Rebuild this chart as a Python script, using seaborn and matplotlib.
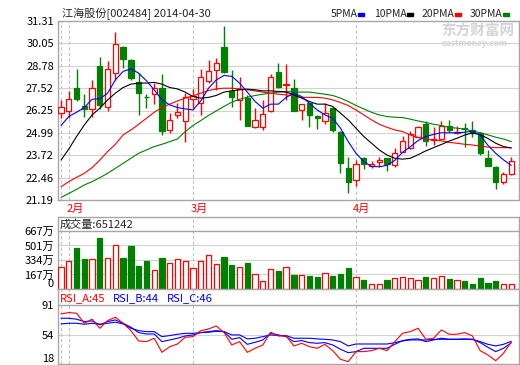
import matplotlib
matplotlib.use('Agg')
import matplotlib.pyplot as plt
import matplotlib.transforms as mtransforms
import numpy as np
import pandas as pd
import seaborn as sns

# daily candles, 2014-01-30 .. 2014-04-30
opens = [26.11, 26.21, 27.55, 26.53, 26.32, 28.74, 26.42, 28.35, 29.85, 29.10,
         27.85, 27.04, 27.16, 27.50, 25.13, 25.97, 25.68, 26.89, 26.70, 27.93,
         28.52, 29.84, 27.36, 26.85, 26.95, 25.29, 25.34, 26.25, 28.42, 27.70,
         27.51, 26.28, 26.66, 25.94, 25.63, 26.38, 25.06, 23.02, 22.32, 23.59,
         23.11, 23.36, 23.55, 23.17, 23.93, 24.15, 24.78, 25.51, 24.60, 24.64,
         25.40, 24.98, 25.25, 25.15, 25.00, 23.59, 23.08, 22.23, 22.64]
closes = [26.45, 26.91, 26.89, 26.34, 27.55, 26.57, 28.59, 29.99, 29.17, 28.10,
          27.25, 27.00, 27.50, 25.09, 25.74, 26.14, 26.99, 27.08, 28.12, 28.46,
          28.93, 28.42, 27.00, 27.47, 25.38, 25.72, 26.04, 28.17, 27.60, 27.74,
          26.23, 26.61, 26.00, 25.81, 26.10, 25.15, 23.30, 22.23, 23.21, 23.22,
          23.25, 23.45, 23.22, 23.83, 24.55, 24.91, 25.34, 24.55, 24.64, 25.40,
          25.15, 25.02, 25.19, 25.00, 23.83, 23.11, 22.23, 22.64, 23.40]
highs = [26.83, 27.36, 28.59, 27.16, 27.98, 29.27, 29.03, 30.70, 29.89, 29.14,
         28.35, 27.17, 27.78, 28.31, 26.11, 26.66, 27.23, 27.46, 28.59, 29.08,
         29.21, 31.04, 28.52, 28.12, 27.12, 26.38, 26.85, 28.31, 28.91, 28.87,
         28.02, 26.63, 26.68, 25.98, 26.70, 26.40, 25.08, 23.64, 23.43, 23.61,
         23.38, 23.64, 23.57, 24.11, 24.81, 25.09, 25.36, 25.63, 25.29, 25.66,
         25.70, 25.36, 25.53, 25.63, 25.01, 24.00, 23.10, 22.75, 23.64]
lows = [25.81, 25.81, 26.79, 25.89, 25.87, 26.34, 26.23, 27.98, 28.65, 27.97,
        25.97, 26.38, 26.61, 24.89, 24.98, 25.81, 24.49, 26.38, 25.97, 27.80,
        27.42, 28.36, 26.42, 25.72, 25.35, 25.25, 25.15, 26.14, 27.55, 26.85,
        26.20, 25.72, 25.34, 25.19, 25.47, 25.06, 22.74, 21.60, 21.98, 22.94,
        22.98, 23.08, 22.83, 23.08, 23.90, 24.06, 24.75, 24.24, 24.30, 24.62,
        25.04, 24.91, 24.21, 24.78, 23.72, 23.09, 21.82, 22.09, 22.62]

ma5 = [25.40, 25.91, 26.15, 26.42, 26.89, 26.91, 27.23, 27.98, 28.46, 28.61,
       28.36, 27.93, 27.42, 26.85, 26.57, 26.42, 26.34, 26.28, 26.79, 27.51,
       27.98, 28.23, 28.18, 27.80, 27.29, 26.76, 26.38, 26.61, 26.61, 26.99,
       27.23, 27.04, 26.66, 26.28, 26.00, 25.81, 25.25, 24.49, 23.83, 23.36,
       23.09, 23.07, 23.15, 23.43, 23.89, 24.20, 24.55, 24.78, 24.90, 24.99,
       24.99, 24.99, 25.02, 25.08, 24.85, 24.28, 23.83, 23.46, 23.15]
ma10 = [23.45, 24.07, 24.78, 25.43, 26.00, 26.38, 26.85, 27.23, 27.55, 27.74,
        27.80, 27.80, 27.84, 27.74, 27.55, 27.47, 27.29, 27.04, 26.95, 26.99,
        27.10, 27.29, 27.36, 27.42, 27.46, 27.42, 27.36, 27.36, 27.33, 27.29,
        27.13, 26.95, 26.76, 26.61, 26.61, 26.48, 26.10, 25.72, 25.25, 24.78,
        24.40, 24.02, 23.73, 23.55, 23.50, 23.55, 23.75, 23.97, 24.15, 24.33,
        24.52, 24.68, 24.86, 24.98, 24.88, 24.67, 24.40, 24.21, 24.13]
ma20 = [21.94, 22.23, 22.47, 22.70, 23.02, 23.45, 23.93, 24.34, 24.87, 25.15,
        25.47, 25.81, 26.15, 26.42, 26.61, 26.79, 26.95, 27.08, 27.23, 27.38,
        27.47, 27.51, 27.51, 27.47, 27.42, 27.36, 27.29, 27.23, 27.17, 27.13,
        27.08, 27.00, 26.99, 26.99, 26.95, 26.85, 26.70, 26.53, 26.28, 26.00,
        25.72, 25.47, 25.30, 25.15, 25.06, 24.87, 24.72, 24.64, 24.58, 24.53,
        24.45, 24.40, 24.34, 24.30, 24.24, 24.18, 24.15, 24.15, 24.15]
ma30 = [21.34, 21.56, 21.79, 22.04, 22.23, 22.45, 22.70, 22.98, 23.26, 23.55,
        23.83, 24.02, 24.21, 24.34, 24.49, 24.64, 25.06, 25.40, 25.68, 25.97,
        26.23, 26.48, 26.72, 26.89, 27.00, 27.10, 27.17, 27.23, 27.29, 27.33,
        27.29, 27.29, 27.29, 27.23, 27.17, 27.10, 26.95, 26.76, 26.53, 26.34,
        26.15, 26.00, 25.91, 25.87, 25.85, 25.76, 25.66, 25.57, 25.47, 25.40,
        25.30, 25.25, 25.19, 25.09, 25.00, 24.87, 24.74, 24.64, 24.49]

# volume in 万
volumes = [250, 319, 472, 345, 345, 587, 357, 503, 357, 495,
           265, 322, 219, 357, 296, 345, 319, 242, 319, 388,
           288, 368, 276, 253, 299, 173, 92, 230, 207, 250,
           161, 158, 150, 138, 181, 150, 173, 242, 138, 104,
           54, 54, 104, 123, 135, 123, 100, 138, 123, 146,
           115, 100, 92, 58, 127, 69, 92, 54, 54]

rsi_a = [79.9, 81.5, 80.7, 68.3, 73.3, 62.1, 71.6, 75.7, 68.3, 59.2,
         46.5, 45.6, 49.8, 32.4, 39.4, 42.7, 51.0, 51.8, 59.2, 61.3,
         65.0, 56.8, 41.5, 45.6, 32.4, 37.4, 41.5, 57.2, 52.6, 52.6,
         40.3, 43.6, 39.4, 37.4, 42.3, 34.5, 23.8, 20.9, 33.3, 33.3,
         34.5, 37.4, 34.5, 45.6, 56.0, 58.0, 62.1, 48.5, 49.8, 60.1,
         54.7, 54.7, 56.8, 52.6, 34.5, 29.1, 22.1, 31.2, 45.0]
rsi_b = [74.5, 74.5, 73.3, 70.4, 71.2, 66.3, 70.4, 72.4, 68.3, 63.4,
         56.8, 55.1, 55.1, 45.6, 47.7, 49.8, 52.6, 53.9, 56.8, 58.0,
         59.2, 58.0, 48.5, 50.6, 42.3, 44.8, 47.7, 55.9, 53.9, 51.8,
         45.6, 46.9, 44.4, 43.6, 44.4, 41.5, 36.2, 32.0, 33.3, 37.4,
         37.4, 37.4, 37.4, 42.3, 46.9, 48.5, 49.0, 45.6, 47.7, 49.8,
         48.5, 48.5, 49.0, 48.5, 44.4, 38.6, 33.3, 37.4, 44.0]
rsi_c = [67.5, 68.3, 68.3, 67.1, 68.3, 67.1, 68.3, 69.6, 67.5, 62.1,
         59.2, 58.0, 58.0, 51.8, 53.1, 54.7, 55.9, 55.9, 56.8, 57.2,
         58.4, 58.0, 53.9, 53.9, 49.0, 49.8, 51.8, 53.9, 53.1, 53.1,
         49.8, 49.8, 49.8, 49.0, 48.5, 47.7, 45.6, 40.3, 42.7, 42.7,
         42.7, 42.7, 42.7, 44.4, 46.5, 47.7, 47.7, 47.7, 48.5, 48.5,
         48.5, 48.5, 48.5, 48.5, 45.6, 42.3, 40.3, 42.3, 46.0]

price_ticks = [31.31, 30.05, 28.78, 27.52, 26.25, 24.99, 23.72, 22.46, 21.19]
vol_ticks = [0, 167, 334, 501, 667]
vol_labels = ['0', '167万', '334万', '501万', '667万']
rsi_ticks = [18, 54, 91]
month_lines = [0, 1, 17, 38]
month_pos = [1, 17, 38]
month_names = ['2月', '3月', '4月']

sns.set_theme(style='white')
plt.rcParams['font.family'] = ['Noto Sans CJK SC', 'DejaVu Sans']
plt.rcParams['font.size'] = 8

RED = '#ff0000'
GREEN = '#008000'
GRID = '#d2d2d2'
EDGE = '#a6a6a6'

df = pd.DataFrame({'i': np.arange(len(closes)), 'o': opens, 'c': closes, 'h': highs, 'l': lows,
                   'ma5': ma5, 'ma10': ma10, 'ma20': ma20, 'ma30': ma30, 'vol': volumes,
                   'ra': rsi_a, 'rb': rsi_b, 'rc': rsi_c})
df['up'] = df['c'] >= df['o']
df['col'] = np.where(df['up'], RED, GREEN)

W, H = 520, 365
fig = plt.figure(figsize=(5.2, 3.65), dpi=100)
L, R = 58, 519


def px_axes(top, bottom):
    return fig.add_axes([L / W, 1 - bottom / H, (R - L) / W, (bottom - top) / H])


ax_p = px_axes(21, 200)
ax_v = px_axes(217, 289)
ax_r = px_axes(289, 364)

xlim = (-0.39, 59.0)
for ax in (ax_p, ax_v, ax_r):
    ax.set_xlim(*xlim)
    ax.set_xticks([])
    ax.set_facecolor('white')
    for s in ax.spines.values():
        s.set_color(EDGE)
        s.set_linewidth(1.0)
    ax.tick_params(axis='y', length=0, pad=3, labelsize=8, colors='black')
    for m in month_lines:
        ax.axvline(m, color='#c4c4c4', lw=0.8, ls=(0, (3, 2)), zorder=1)

# price panel
ax_p.set_ylim(21.19, 31.31)
ax_p.set_yticks(price_ticks)
ax_p.set_yticklabels(['%.2f' % t for t in price_ticks])
for t in price_ticks[1:-1]:
    ax_p.axhline(t, color=GRID, lw=0.8, zorder=0)

ax_p.vlines(df['i'], df['l'], df['h'], colors=df['col'], lw=1.0, zorder=3)
body = (df['c'] - df['o']).abs().clip(lower=0.03)
ax_p.bar(df['i'], body, bottom=df[['o', 'c']].min(axis=1), width=0.68,
         color=np.where(df['up'], 'white', GREEN), edgecolor=df['col'], lw=0.9, zorder=4)

for col, colr in [('ma30', GREEN), ('ma20', RED), ('ma10', 'black'), ('ma5', '#0000ff')]:
    sns.lineplot(data=df, x='i', y=col, ax=ax_p, color=colr, lw=0.8, zorder=5)
ax_p.set_xlabel('')
ax_p.set_ylabel('')
ax_p.set_xlim(*xlim)

fig.text(62 / W, 1 - 13.5 / H, '江海股份[002484] 2014-04-30', fontsize=8, va='center', ha='left')

# legend
leg = [('5PMA', 331, '#0000ff', 358), ('10PMA', 374, 'black', 407),
       ('20PMA', 422, RED, 455), ('30PMA', 470, GREEN, 503)]
for name, x0, colr, xs in leg:
    fig.text(x0 / W, 1 - 14 / H, name, fontsize=7.5, va='center', ha='left')
    fig.patches.append(plt.Rectangle((xs / W, 1 - 15.5 / H), 6 / W, 2.5 / H,
                                     transform=fig.transFigure, color=colr, figure=fig))

# watermark
fig.text(441 / W, 1 - 31 / H, '东方财富网', fontsize=10.5, color='#d4d4d4',
         fontweight='bold', va='center', ha='left')
fig.text(442 / W, 1 - 43 / H, 'eastmoney.com', fontsize=6, color='#d4d4d4',
         fontweight='bold', style='italic', va='center', ha='left')

# month labels
trans = mtransforms.blended_transform_factory(ax_p.transData, ax_p.transAxes)
for m, name in zip(month_pos, month_names):
    ax_p.text(m - 0.35, -0.047, name, transform=trans, color=RED, fontsize=8,
              ha='left', va='center')

# volume panel
ax_v.set_ylim(0, 828)
ax_v.set_yticks(vol_ticks)
ax_v.set_yticklabels(vol_labels)
ax_v.get_yticklabels()[0].set_va('bottom')
for t in vol_ticks[1:4]:
    ax_v.axhline(t, color=GRID, lw=0.8, zorder=0)
ax_v.axhline(667, color=EDGE, lw=1.0, zorder=2)
ax_v.bar(df['i'], df['vol'], width=0.68, color=np.where(df['up'], 'white', GREEN),
         edgecolor=df['col'], lw=0.9, zorder=3)
ax_v.text((60 - L) / (R - L), (289 - 225) / 72, '成交量:651242', transform=ax_v.transAxes,
          fontsize=8, va='center', ha='left')

# rsi panel
ax_r.set_ylim(18, 110.6)
ax_r.set_yticks(rsi_ticks)
ax_r.get_yticklabels()[0].set_va('bottom')
ax_r.axhline(54, color=GRID, lw=0.8, zorder=0)
ax_r.axhline(91, color=EDGE, lw=1.0, zorder=2)
sns.lineplot(data=df, x='i', y='rc', ax=ax_r, color='#0000ff', lw=0.8, zorder=4)
sns.lineplot(data=df, x='i', y='rb', ax=ax_r, color='#0000ff', lw=0.8, zorder=4)
sns.lineplot(data=df, x='i', y='ra', ax=ax_r, color=RED, lw=0.8, zorder=5)
ax_r.set_xlabel('')
ax_r.set_ylabel('')
ax_r.set_xlim(*xlim)
for txt, x0, colr in [('RSI_A:45', 60, RED), ('RSI_B:44', 113, '#0000ff'), ('RSI_C:46', 167, '#0000ff')]:
    ax_r.text((x0 - L) / (R - L), (364 - 298) / 75, txt, transform=ax_r.transAxes,
              color=colr, fontsize=8, va='center', ha='left')

fig.savefig('out.png', dpi=100, facecolor='white')
